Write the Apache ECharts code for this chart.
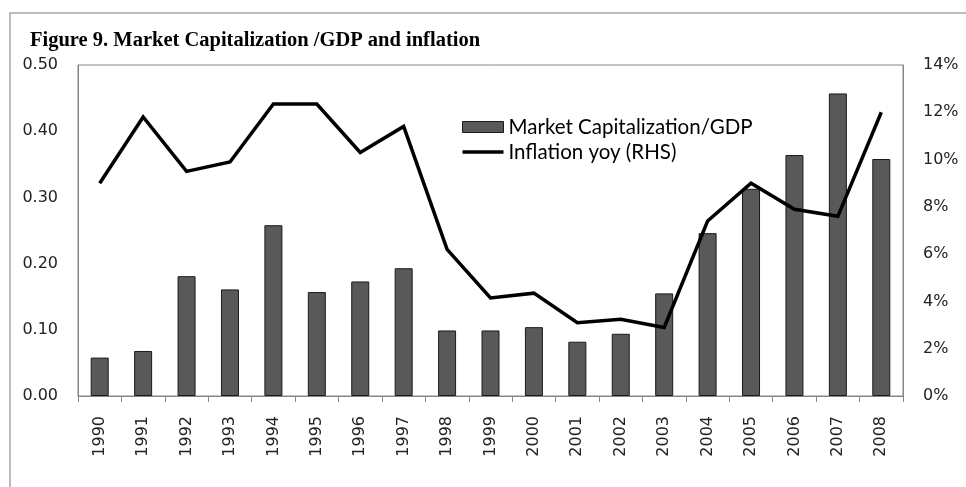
<!DOCTYPE html>
<html>
<head>
<meta charset="utf-8">
<script src="https://cdn.jsdelivr.net/npm/echarts@6/dist/echarts.min.js"></script>
<style>
  html, body { margin: 0; padding: 0; background: #fff; }
  #chart { width: 966px; height: 487px; }
</style>
</head>
<body>
<div id="chart"></div>
<script>
// data
var years = ['1990','1991','1992','1993','1994','1995','1996','1997','1998','1999',
             '2000','2001','2002','2003','2004','2005','2006','2007','2008'];
var marketCapGdp = [0.058, 0.068, 0.181, 0.161, 0.258, 0.157, 0.173, 0.193, 0.099, 0.099,
                    0.104, 0.082, 0.094, 0.155, 0.246, 0.313, 0.364, 0.457, 0.358];
var inflationYoy = [9.0, 11.8, 9.5, 9.9, 12.35, 12.35, 10.3, 11.4, 6.2, 4.15,
                    4.35, 3.1, 3.25, 2.9, 7.4, 9.0, 7.9, 7.6, 12.0];
var leftTicks = [0, 0.5, 0.1];   // min, max, interval
var rightTicks = [0, 14, 2];

var axisGray = '#868686';
var labelFont = { color: '#222', fontFamily: 'DejaVu Sans', fontSize: 16 };

var chart = echarts.init(document.getElementById('chart'));

var option = {
  backgroundColor: '#fff',
  animation: false,
  title: {
    text: 'Figure 9. Market Capitalization /GDP and inflation',
    left: 25,
    top: 25,
    textStyle: { fontFamily: 'Liberation Serif', fontWeight: 'bold', fontSize: 20.5, color: '#000' }
  },
  graphic: [{
    type: 'rect',
    shape: { x: 10, y: 13, width: 980, height: 500 },
    style: { fill: 'none', stroke: '#a6a6a6', lineWidth: 1.5 },
    silent: true
  }],
  legend: {
    orient: 'vertical',
    left: 462,
    top: 116,
    padding: 0,
    itemWidth: 41,
    itemHeight: 11,
    itemGap: 3,
    textStyle: { fontFamily: 'Lato', fontSize: 20.5, color: '#000', lineHeight: 22 },
    data: [
      { name: 'Market Capitalization/GDP', icon: 'rect',
        itemStyle: { color: '#595959', borderColor: '#1a1a1a', borderWidth: 1 } },
      { name: 'Inflation yoy (RHS)', icon: 'path://M0,0 H41 V3.5 H0 Z',
        itemStyle: { color: '#000', borderWidth: 0 } }
    ]
  },
  grid: {
    left: 78, right: 63, top: 65, bottom: 91,
    show: true, borderColor: axisGray, borderWidth: 1
  },
  xAxis: {
    type: 'category',
    data: years,
    axisLine: { lineStyle: { color: axisGray } },
    axisTick: { show: true, length: 6, lineStyle: { color: axisGray } },
    axisLabel: Object.assign({ rotate: 90, margin: 20, interval: 0 }, labelFont)
  },
  yAxis: [{
    type: 'value',
    min: leftTicks[0], max: leftTicks[1], interval: leftTicks[2],
    axisLine: { show: true, lineStyle: { color: axisGray } },
    axisTick: { show: false },
    splitLine: { show: false },
    axisLabel: Object.assign({ margin: 20, formatter: function (v) { return v.toFixed(2); } }, labelFont)
  }, {
    type: 'value',
    min: rightTicks[0], max: rightTicks[1], interval: rightTicks[2],
    position: 'right',
    axisLine: { show: true, lineStyle: { color: axisGray } },
    axisTick: { show: false },
    splitLine: { show: false },
    axisLabel: Object.assign({ margin: 20, formatter: function (v) { return v + '%'; } }, labelFont)
  }],
  series: [{
    name: 'Market Capitalization/GDP',
    type: 'bar',
    data: marketCapGdp,
    barWidth: 18,
    itemStyle: { color: '#595959', borderColor: '#1a1a1a', borderWidth: 1 }
  }, {
    name: 'Inflation yoy (RHS)',
    type: 'line',
    yAxisIndex: 1,
    data: inflationYoy,
    symbol: 'none',
    lineStyle: { color: '#000', width: 3.5, join: 'miter' },
    itemStyle: { color: '#000' }
  }]
};

chart.setOption(option);
</script>
</body>
</html>
